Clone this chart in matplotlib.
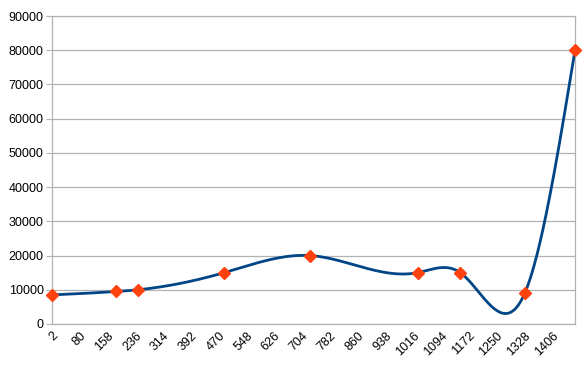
import numpy as np
import matplotlib
matplotlib.use("Agg")
import matplotlib.pyplot as plt

# data
x_vals = [2, 183, 243, 485, 727, 1028, 1148, 1329, 1470]
y_vals = [8500, 9500, 10000, 15000, 20000, 15000, 15000, 9000, 80000]
x_ticks = list(range(2, 1407, 78))
y_ticks = list(range(0, 90001, 10000))


def natural_spline(x, y, n=1500):
    # plain natural cubic spline, like the office-suite smoothing
    x = np.asarray(x, float)
    y = np.asarray(y, float)
    k = len(x)
    h = np.diff(x)
    A = np.zeros((k, k))
    b = np.zeros(k)
    A[0, 0] = A[-1, -1] = 1
    for i in range(1, k - 1):
        A[i, i - 1] = h[i - 1]
        A[i, i] = 2 * (h[i - 1] + h[i])
        A[i, i + 1] = h[i]
        b[i] = 6 * ((y[i + 1] - y[i]) / h[i] - (y[i] - y[i - 1]) / h[i - 1])
    m = np.linalg.solve(A, b)
    xs = np.linspace(x[0], x[-1], n)
    idx = np.clip(np.searchsorted(x, xs) - 1, 0, k - 2)
    x0, x1 = x[idx], x[idx + 1]
    hh = x1 - x0
    t0, t1 = x1 - xs, xs - x0
    ys = (m[idx] * t0**3 + m[idx + 1] * t1**3) / (6 * hh) \
        + (y[idx] / hh - m[idx] * hh / 6) * t0 \
        + (y[idx + 1] / hh - m[idx + 1] * hh / 6) * t1
    return xs, ys


plt.rcParams['font.family'] = ['Liberation Sans', 'DejaVu Sans']
fig = plt.figure(figsize=(5.88, 3.67), dpi=100)
ax = fig.add_axes([52 / 588, 43 / 367, 523 / 588, 308 / 367])

xs, ys = natural_spline(x_vals, y_vals)
ax.plot(xs, ys, color='#004586', lw=2.0, zorder=3, solid_capstyle='round')
ax.plot(x_vals, y_vals, ls='none', marker='D', ms=6.5, color='#ff420e',
        mec='#ff420e', zorder=4, clip_on=False)

ax.set_xlim(2, 1470)
ax.set_ylim(0, 90000)
ax.set_xticks(x_ticks)
ax.set_yticks(y_ticks)
ax.set_xticklabels([str(v) for v in x_ticks], rotation=45, ha='right',
                   rotation_mode='anchor', fontsize=9)
ax.set_yticklabels([str(v) for v in y_ticks], fontsize=9)
ax.tick_params(axis='x', length=0, pad=4)
ax.tick_params(axis='y', length=4, color='#b3b3b3', pad=2)
ax.grid(axis='y', color='#b3b3b3', lw=0.9)
ax.set_axisbelow(True)
for s in ax.spines.values():
    s.set_color('#b3b3b3')
    s.set_linewidth(0.9)

fig.savefig('out.png', dpi=100)
